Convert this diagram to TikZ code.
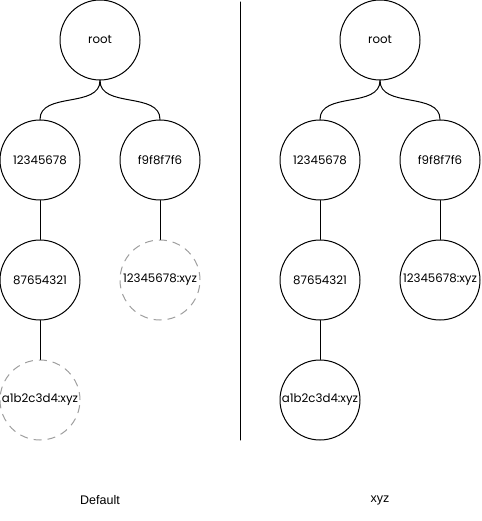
\documentclass[tikz,border=0pt]{standalone}
\usepackage{fontspec}
\setmainfont{Poppins}
\newfontfamily\captionfont{Liberation Sans}
\begin{document}
\begin{tikzpicture}[line cap=round,line join=round,x=1pt,y=-1pt,
  hashnode/.style={circle,draw,line width=1pt,minimum size=80pt,inner sep=0pt,font=\fontsize{11.8}{13}\selectfont},
  pendnode/.style={hashnode,draw=gray!75,dash pattern=on 8pt off 6pt,line cap=butt},
  edge/.style={line width=1pt},
  caption/.style={font=\captionfont\fontsize{12.5}{14}\selectfont}]
\useasboundingbox (0,0) rectangle (481,521);
\node[hashnode] (rootL) at (100,40) {root};
\node[hashnode] (aL) at (40,160) {12345678};
\node[hashnode] (bL) at (160,160) {f9f8f7f6};
\node[hashnode] (cL) at (40,280) {87654321};
\node[pendnode] (dL) at (160,280) {12345678:xyz};
\node[pendnode] (eL) at (40,400) {a1b2c3d4:xyz};
\draw[edge] (rootL.south) to[out=-90,in=90] (aL.north);
\draw[edge] (rootL.south) to[out=-90,in=90] (bL.north);
\draw[edge] (aL) -- (cL);
\draw[edge] (bL) -- (dL);
\draw[edge] (cL) -- (eL);
\node[hashnode] (rootR) at (380,40) {root};
\node[hashnode] (aR) at (320,160) {12345678};
\node[hashnode] (bR) at (440,160) {f9f8f7f6};
\node[hashnode] (cR) at (320,280) {87654321};
\node[hashnode] (dR) at (440,280) {12345678:xyz};
\node[hashnode] (eR) at (320,400) {a1b2c3d4:xyz};
\draw[edge] (rootR.south) to[out=-90,in=90] (aR.north);
\draw[edge] (rootR.south) to[out=-90,in=90] (bR.north);
\draw[edge] (aR) -- (cR);
\draw[edge] (bR) -- (dR);
\draw[edge] (cR) -- (eR);
\coordinate (sepTop) at (240,2);
\coordinate (sepBot) at (240,440);
\draw[edge] (sepTop) -- (sepBot);
\node[caption] (capL) at (100,500) {Default};
\node[caption] (capR) at (380,500) {xyz};
\end{tikzpicture}
\end{document}
